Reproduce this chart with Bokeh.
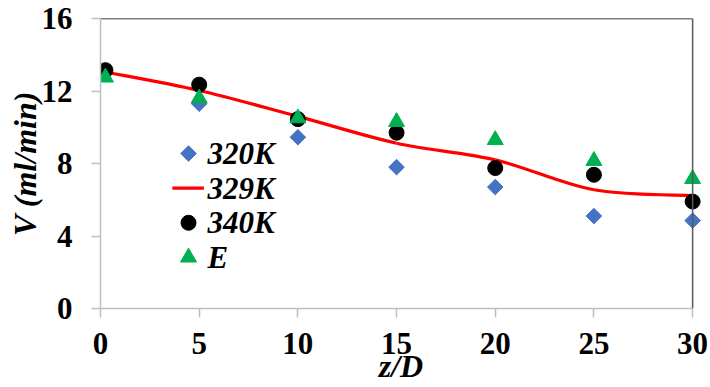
import math

from bokeh.core.properties import value
from bokeh.embed import file_html
from bokeh.models import FixedTicker, Range1d, Span
from bokeh.plotting import figure
from bokeh.resources import INLINE

# Axial position along the tube (z/D) and measured/simulated flow V (ml/min)
z_over_d = [0.25, 5, 10, 15, 20, 25, 30]
v_320k = [13.0, 11.3, 9.45, 7.8, 6.7, 5.1, 4.85]
v_329k = [13.05, 12.03, 10.6, 9.12, 8.2, 6.55, 6.23]
v_340k = [13.15, 12.35, 10.45, 9.7, 7.75, 7.38, 5.9]
v_exp = [12.75, 11.6, 10.5, 10.3, 9.3, 8.15, 7.15]

series_labels = ["320K", "329K", "340K", "E"]
x_ticks = [0, 5, 10, 15, 20, 25, 30]
y_ticks = [0, 4, 8, 12, 16]

X_MIN, X_MAX = 0, 30
Y_MIN, Y_MAX = 0, 16

BLUE = "#4472C4"
RED = "#FF0000"
GREEN = "#00B050"
SERIF = "Liberation Serif"


def smooth_segments(xs, ys):
    """Cubic Bezier pieces of a Catmull-Rom style smoothed line."""
    n = len(xs)
    seg = {k: [] for k in ("x0", "y0", "x1", "y1", "cx0", "cy0", "cx1", "cy1")}
    for i in range(n - 1):
        i0 = max(i - 1, 0)
        i3 = min(i + 2, n - 1)
        seg["x0"].append(xs[i])
        seg["y0"].append(ys[i])
        seg["x1"].append(xs[i + 1])
        seg["y1"].append(ys[i + 1])
        seg["cx0"].append(xs[i] + (xs[i + 1] - xs[i0]) / 6)
        seg["cy0"].append(ys[i] + (ys[i + 1] - ys[i0]) / 6)
        seg["cx1"].append(xs[i + 1] - (xs[i3] - xs[i]) / 6)
        seg["cy1"].append(ys[i + 1] - (ys[i3] - ys[i]) / 6)
    return seg


p = figure(
    width=710,
    height=387,
    x_range=Range1d(X_MIN, 30.45),
    y_range=Range1d(Y_MIN, Y_MAX),
    output_backend="svg",
    toolbar_location=None,
    min_border_left=100,
    min_border_right=9,
    min_border_top=18,
    min_border_bottom=79,
    outline_line_color=None,
    background_fill_color="white",
    border_fill_color="white",
)
p.grid.visible = False

# axes
xa = p.xaxis[0]
ya = p.yaxis[0]
xa.ticker = FixedTicker(ticks=x_ticks)
ya.ticker = FixedTicker(ticks=y_ticks)
xa.bounds = (X_MIN, X_MAX)
for ax in (xa, ya):
    ax.axis_line_color = "#BFBFBF"
    ax.axis_line_width = 1.5
    ax.major_tick_line_color = "#BFBFBF"
    ax.major_tick_line_width = 1.5
    ax.major_tick_out = 9
    ax.major_tick_in = 0
    ax.minor_tick_line_color = None
    ax.major_label_text_font = SERIF
    ax.major_label_text_font_style = "bold"
    ax.major_label_text_font_size = "31px"
    ax.major_label_text_color = "black"
    ax.axis_label_text_font = SERIF
    ax.axis_label_text_font_style = "bold italic"
    ax.axis_label_text_font_size = "32px"
    ax.axis_label_text_color = "black"
xa.major_label_standoff = 15
ya.major_label_standoff = 19
xa.axis_label = "z/D"
ya.axis_label = "V (ml/min)"
xa.axis_label_standoff = -9
ya.axis_label_standoff = -4

# top and right frame edges
p.segment(x0=[X_MIN], y0=[Y_MAX], x1=[X_MAX], y1=[Y_MAX], line_color="black", line_width=1.5)
p.add_layout(Span(location=X_MAX, dimension="height", line_color="#595959", line_width=1.5))

# data series
p.scatter(z_over_d, v_320k, marker="square", angle=math.pi / 4, size=11,
          fill_color=BLUE, line_color=BLUE)
p.bezier(**smooth_segments(z_over_d, v_329k), line_color=RED, line_width=3.2)
p.scatter(z_over_d, v_340k, marker="circle", size=15, fill_color="black", line_color="black")
p.scatter(z_over_d, v_exp, marker="triangle", size=16, fill_color=GREEN, line_color=GREEN)

# legend block inside the plot
LEG_X = 4.46
LEG_TXT_X = 5.42
LEG_Y0 = 8.55
LEG_DY = 1.91
rows = [LEG_Y0 - i * LEG_DY for i in range(4)]
p.scatter([LEG_X], [rows[0]], marker="square", angle=math.pi / 4, size=11,
          fill_color=BLUE, line_color=BLUE)
p.segment(x0=[LEG_X - 0.82], y0=[rows[1]], x1=[LEG_X + 0.78], y1=[rows[1]],
          line_color=RED, line_width=3.2)
p.scatter([LEG_X], [rows[2]], marker="circle", size=15, fill_color="black", line_color="black")
p.scatter([LEG_X], [rows[3]], marker="triangle", size=16, fill_color=GREEN, line_color=GREEN)
p.text(x=[LEG_TXT_X] * 4, y=rows, text=series_labels, text_font=value(SERIF),
       text_font_style="bold italic", text_font_size="31px", text_align="left",
       text_baseline="middle", text_color="black")

open("out.html", "w").write(file_html(p, INLINE))
